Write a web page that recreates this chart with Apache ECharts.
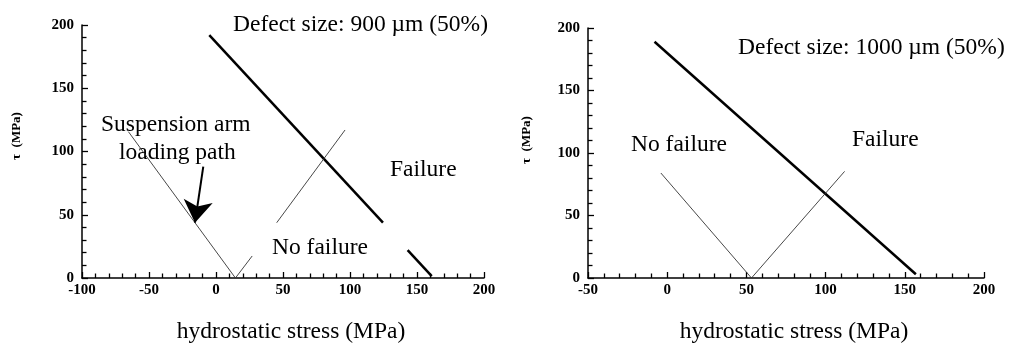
<!DOCTYPE html>
<html>
<head>
<meta charset="utf-8">
<script src="https://cdn.jsdelivr.net/npm/echarts@6/dist/echarts.min.js"></script>
<style>html,body{margin:0;padding:0;background:#fff;}#c{width:1012px;height:345px;}</style>
</head>
<body>
<div id="c"></div>
<script>
// ---- Data ----
const leftXTicks = [-100, 200];
const rightXTicks = [-50, 200];
const yTicks = [0, 200];

// Left panel: defect 900 µm
const leftFailureUpper = [[-5, 192], [124.6, 43.8]];
const leftFailureLower = [[143, 22], [161, 1.5]];
const leftPathLeftArm = [[-65.4, 115.7], [14.5, 0]];
const leftPathRightLow = [[14.5, 0], [27, 17.4]];
const leftPathRightHigh = [[45.3, 43.7], [96.3, 117]];
const arrowStart = [-9.5, 88];
const arrowEnd = [-15.7, 43.7];

// Right panel: defect 1000 µm
const rightFailure = [[-8, 189], [157, 3]];
const rightPath = [[-4, 84], [53.2, 0], [112, 85.3]];

// ---- Styling ----
const SERIF = '"Liberation Serif","Times New Roman",serif';
const ANN = 23.5;

function tickCfg() {
  return {
    axisLine: {show: true, onZero: false, lineStyle: {color: '#000', width: 1.5}},
    axisTick: {show: true, inside: true, length: 6, lineStyle: {color: '#000', width: 1.3}},
    minorTick: {show: true, splitNumber: 5, length: 4.5, lineStyle: {color: '#000', width: 1.3}},
    splitLine: {show: false}
  };
}
function xAxis(idx, min, max) {
  return Object.assign({
    type: 'value', gridIndex: idx, min: min, max: max, interval: 50,
    axisLabel: {fontFamily: SERIF, fontWeight: 'bold', fontSize: 15, color: '#000', margin: 5}
  }, tickCfg());
}
function yAxis(idx) {
  return Object.assign({
    type: 'value', gridIndex: idx, min: yTicks[0], max: yTicks[1], interval: 50,
    axisLabel: {fontFamily: SERIF, fontWeight: 'bold', fontSize: 15, color: '#000', margin: 8}
  }, tickCfg());
}
function seg(data, xi, thick, extra) {
  return Object.assign({
    type: 'line', xAxisIndex: xi, yAxisIndex: xi, data: data,
    symbol: 'none', silent: true,
    lineStyle: thick ? {color: '#000', width: 2.5} : {color: '#333', width: 0.9}
  }, extra || {});
}
function txt(x, y, s, align) {
  return {
    type: 'text', x: x, y: y,
    style: {text: s, fill: '#000', font: ANN + 'px ' + SERIF, textAlign: align || 'left', textVerticalAlign: 'middle'}
  };
}

const chart = echarts.init(document.getElementById('c'), null, {renderer: 'canvas'});
chart.setOption({
  animation: false,
  backgroundColor: '#fff',
  grid: [
    {left: 82, right: 528, top: 25, bottom: 67},
    {left: 588, right: 28, top: 28, bottom: 67}
  ],
  xAxis: [xAxis(0, leftXTicks[0], leftXTicks[1]), xAxis(1, rightXTicks[0], rightXTicks[1])],
  yAxis: [yAxis(0), yAxis(1)],
  series: [
    seg(leftFailureUpper, 0, true),
    seg(leftFailureLower, 0, true),
    seg(leftPathLeftArm, 0, false, {
      markLine: {
        silent: true, animation: false,
        symbol: ['none', 'arrow'], symbolSize: 22,
        label: {show: false},
        lineStyle: {color: '#000', width: 2, type: 'solid'},
        data: [[{coord: arrowStart}, {coord: arrowEnd}]]
      }
    }),
    seg(leftPathRightLow, 0, false),
    seg(leftPathRightHigh, 0, false),
    seg(rightFailure, 1, true),
    seg(rightPath, 1, false)
  ],
  graphic: [
    txt(233, 25, 'Defect size: 900 \u00b5m (50%)'),
    txt(101, 125, 'Suspension arm'),
    txt(119, 153, 'loading path'),
    txt(390, 170, 'Failure'),
    txt(272, 248, 'No failure'),
    txt(291, 332, 'hydrostatic stress (MPa)', 'center'),
    {type: 'text', x: 17, y: 136, rotation: Math.PI / 2,
      style: {text: '\u03c4  (MPa)', fill: '#000', font: 'bold 13px ' + SERIF, textAlign: 'center', textVerticalAlign: 'middle'}},

    txt(738, 48, 'Defect size: 1000 \u00b5m (50%)'),
    txt(631, 145, 'No failure'),
    txt(852, 140, 'Failure'),
    txt(794, 332, 'hydrostatic stress (MPa)', 'center'),
    {type: 'text', x: 527, y: 140, rotation: Math.PI / 2,
      style: {text: '\u03c4  (MPa)', fill: '#000', font: 'bold 13px ' + SERIF, textAlign: 'center', textVerticalAlign: 'middle'}}
  ]
});
</script>
</body>
</html>
